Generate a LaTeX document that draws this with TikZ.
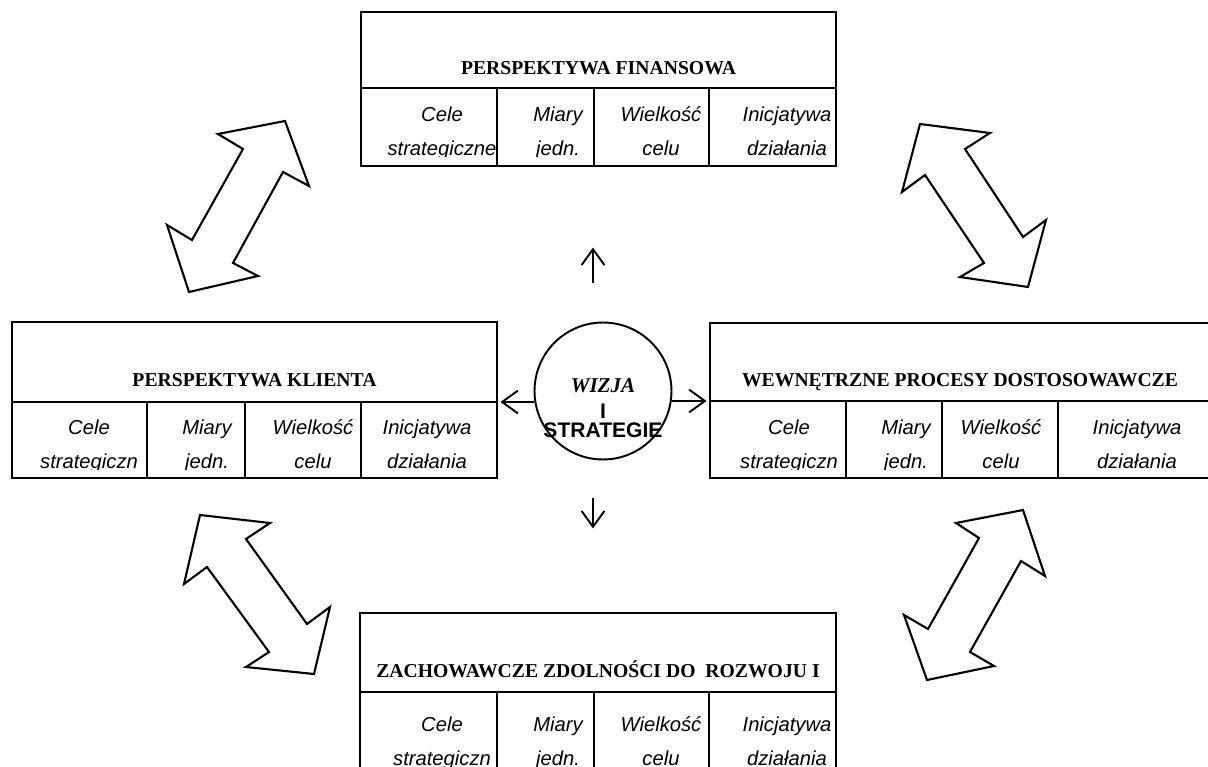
\documentclass[tikz,border=0pt]{standalone}
\usepackage{fontspec}
\setmainfont{Liberation Serif}
\setsansfont{Liberation Sans}
\usetikzlibrary{positioning,arrows.meta}

\begin{document}
\begin{tikzpicture}[
x=0.02cm, y=-0.02cm,
>={Straight Barb[length=9pt,width=13pt]},
frame/.style={line width=1.5pt},
head/.style={
draw,
line width=1.5pt,
inner ysep=0pt,
outer sep=0pt,
text height=1.26cm,
text depth=0.26cm,
font=\fontsize{11.2}{13}\selectfont\bfseries
},
cell/.style={
anchor=base,
align=center,
inner sep=0pt,
font=\fontsize{11.5}{19.3}\selectfont\sffamily\itshape
},
link/.style={->,line width=1.1pt},
bigarrow/.style={line width=1.2pt,line join=miter}
]
\clip (0,0) rectangle (1208,767);

% perspective headers
\node[head, minimum width=9.5cm, minimum height=1.52cm] (fin) at (598.5,50) {PERSPEKTYWA FINANSOWA};
\node[head, minimum width=9.7cm, minimum height=1.6cm] (cli) at (254.5,362) {PERSPEKTYWA KLIENTA};
\node[head, minimum width=10cm, minimum height=1.56cm] (wew) at (960,362) {WEWNĘTRZNE PROCESY DOSTOSOWAWCZE};
\node[head, minimum width=9.52cm, minimum height=1.58cm] (roz) at (598,652.5) {ZACHOWAWCZE ZDOLNOŚCI DO~~ROZWOJU I};

% lower rows
\draw[frame] (fin.south west) rectangle ++(475,78);
\draw[frame] (497,88) -- (497,166) (594,88) -- (594,166) (709,88) -- (709,166);
\draw[frame] (cli.south west) rectangle ++(485,76);
\draw[frame] (147,402) -- (147,478) (245,402) -- (245,478) (361,402) -- (361,478);
\draw[frame] (wew.south west) rectangle ++(500,77);
\draw[frame] (846,401) -- (846,478) (942,401) -- (942,478) (1058,401) -- (1058,478);
\draw[frame] (roz.south west) rectangle ++(476,78);
\draw[frame] (497,692) -- (497,770) (594,692) -- (594,770) (709,692) -- (709,770);

% cell texts, cut at the bottom
\begin{scope}
\clip (361,88) rectangle (836,156.5) (12,402) rectangle (497,469.5)
(710,401) rectangle (1210,469.5) (360,692) rectangle (836,766.5);
\node[cell] (fin-1) at (442,155) {Cele\\strategiczne};
\node[cell] (fin-2) at (558,155) {Miary\\jedn.};
\node[cell] (fin-3) at (661,155) {Wielkość\\celu};
\node[cell] (fin-4) at (787,155) {Inicjatywa\\działania};
\node[cell] (cli-1) at (89,468) {Cele\\strategiczn};
\node[cell] (cli-2) at (207,468) {Miary\\jedn.};
\node[cell] (cli-3) at (313,468) {Wielkość\\celu};
\node[cell] (cli-4) at (427,468) {Inicjatywa\\działania};
\node[cell] (wew-1) at (789,468) {Cele\\strategiczn};
\node[cell] (wew-2) at (906,468) {Miary\\jedn.};
\node[cell] (wew-3) at (1001,468) {Wielkość\\celu};
\node[cell] (wew-4) at (1137,468) {Inicjatywa\\działania};
\node[cell] (roz-1) at (442,765) {Cele\\strategiczn};
\node[cell] (roz-2) at (558,765) {Miary\\jedn.};
\node[cell] (roz-3) at (661,765) {Wielkość\\celu};
\node[cell] (roz-4) at (787,765) {Inicjatywa\\działania};
\end{scope}

% vision in the middle
\node[circle, draw, line width=1.1pt, minimum size=2.74cm, inner sep=0pt] (vision) at (603,391) {};
\node[align=center, anchor=base, inner sep=0pt, font=\fontsize{12}{10.8}\selectfont] (visionlbl) at (603,437)
{\bfseries\itshape WIZJA\\[3.9pt]\sffamily\bfseries I\\\sffamily\bfseries STRATEGIE};

\draw[link, shorten >=2pt] (vision.west |- cli.south east) -- (cli.south east);
\draw[link, shorten >=2pt] (vision.east |- wew.south west) -- (wew.south west);
\draw[link] ([xshift=-0.2cm,yshift=0.78cm]vision.north) -- ++(0,-35);
\draw[link] ([xshift=-0.2cm,yshift=-0.76cm]vision.south) -- ++(0,30);

% wide double arrows
\draw[bigarrow] (285,121) -- (309,186) -- (283,172) -- (233,263) -- (258,276) -- (189,292)
-- (167,225) -- (192,240) -- (243,149) -- (218,134) -- cycle;
\draw[bigarrow] (920,124) -- (990,133) -- (965,149) -- (1023,237) -- (1046,220) -- (1028,287)
-- (960,277) -- (984,263) -- (925,175) -- (902,192) -- cycle;
\draw[bigarrow] (200,515) -- (270,523) -- (246,539) -- (307,624) -- (330,607) -- (314,674)
-- (246,667) -- (269,652) -- (207,567) -- (184,584) -- cycle;
\draw[bigarrow] (1023,510) -- (1045,576) -- (1021,561) -- (970,652) -- (994,666) -- (927,680)
-- (904,615) -- (928,629) -- (979,538) -- (956,523) -- cycle;

\end{tikzpicture}
\end{document}
